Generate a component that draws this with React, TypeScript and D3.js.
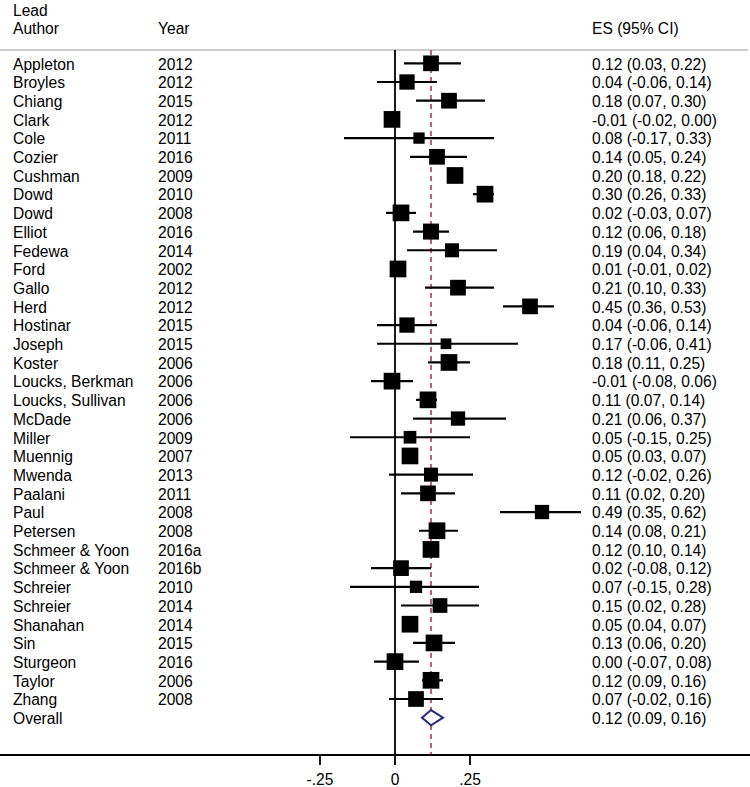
import React from "react";
import * as d3 from "d3";

const authors = ["Appleton","Broyles","Chiang","Clark","Cole","Cozier","Cushman","Dowd","Dowd","Elliot","Fedewa","Ford","Gallo","Herd","Hostinar","Joseph","Koster","Loucks, Berkman","Loucks, Sullivan","McDade","Miller","Muennig","Mwenda","Paalani","Paul","Petersen","Schmeer & Yoon","Schmeer & Yoon","Schreier","Schreier","Shanahan","Sin","Sturgeon","Taylor","Zhang"];
const years = ["2012","2012","2015","2012","2011","2016","2009","2010","2008","2016","2014","2002","2012","2012","2015","2015","2006","2006","2006","2006","2009","2007","2013","2011","2008","2008","2016a","2016b","2010","2014","2014","2015","2016","2006","2008"];
const es = [0.12,0.04,0.18,-0.01,0.08,0.14,0.20,0.30,0.02,0.12,0.19,0.01,0.21,0.45,0.04,0.17,0.18,-0.01,0.11,0.21,0.05,0.05,0.12,0.11,0.49,0.14,0.12,0.02,0.07,0.15,0.05,0.13,0.00,0.12,0.07];
const lo = [0.03,-0.06,0.07,-0.02,-0.17,0.05,0.18,0.26,-0.03,0.06,0.04,-0.01,0.10,0.36,-0.06,-0.06,0.11,-0.08,0.07,0.06,-0.15,0.03,-0.02,0.02,0.35,0.08,0.10,-0.08,-0.15,0.02,0.04,0.06,-0.07,0.09,-0.02];
const hi = [0.22,0.14,0.30,0.00,0.33,0.24,0.22,0.33,0.07,0.18,0.34,0.02,0.33,0.53,0.14,0.41,0.25,0.06,0.14,0.37,0.25,0.07,0.26,0.20,0.62,0.21,0.14,0.12,0.28,0.28,0.07,0.20,0.08,0.16,0.16];
const weights = [2.92,2.77,2.92,3.30,1.51,2.92,3.30,3.30,3.30,3.03,2.32,3.30,2.92,2.92,2.77,1.36,3.30,3.30,3.30,2.42,1.91,3.30,2.32,2.92,2.42,3.30,3.30,2.92,1.79,2.56,3.30,3.30,3.30,3.30,2.92];
const overall = { label: "Overall", es: 0.12, lo: 0.09, hi: 0.16 };
const tickValues = [-0.25, 0, 0.25];
const tickLabels = ["-.25", "0", ".25"];

const W = 750;
const H = 787;
const FONT = "'Liberation Sans', Arial, Helvetica, sans-serif";
const FS = 15.6;

const fmt = (v: number) => v.toFixed(2);

export default function App() {
  const x = d3.scaleLinear().domain([-0.25, 0.25]).range([320, 470]);
  const y = d3.scaleLinear().domain([0, authors.length]).range([63.3, 717.7]);
  const size = d3.scaleSqrt().domain([0, 3.3]).range([0, 16.7]);
  const axisY = 755;
  const topY = 50;
  const colAuthor = 13;
  const colYear = 158;
  const colES = 592;
  const oy = y(authors.length);
  const dh = 7.6;

  return (
    <svg width={W} height={H} style={{ position: "absolute", left: 0, top: 0, background: "#fff" }} fontFamily={FONT} fontSize={FS}>
      <rect x={0} y={0} width={W} height={H} fill="#fff" />
      {/* headers */}
      <text x={colAuthor} y={15.5}>Lead</text>
      <text x={colAuthor} y={34}>Author</text>
      <text x={colYear} y={34}>Year</text>
      <text x={colES} y={34}>ES (95% CI)</text>
      <line x1={0} x2={748} y1={topY} y2={topY} stroke="#bdbdbd" strokeWidth={1.5} />

      {/* zero line */}
      <line x1={x(0)} x2={x(0)} y1={topY} y2={axisY} stroke="#000" strokeWidth={1.8} />
      {/* overall dashed line */}
      <line x1={x(overall.es)} x2={x(overall.es)} y1={topY} y2={axisY} stroke="#b23a48" strokeWidth={1.6} strokeDasharray="5,4" />

      {authors.map((a, i) => {
        const cy = y(i);
        const s = size(weights[i]);
        return (
          <g key={i}>
            <line x1={x(lo[i])} x2={x(hi[i])} y1={cy} y2={cy} stroke="#000" strokeWidth={2.2} />
            <rect x={x(es[i]) - s / 2} y={cy - s / 2} width={s} height={s} fill="#000" />
            <text x={colAuthor} y={cy + 6.3}>{a}</text>
            <text x={colYear} y={cy + 6.3}>{years[i]}</text>
            <text x={colES} y={cy + 6.3}>{`${fmt(es[i])} (${fmt(lo[i])}, ${fmt(hi[i])})`}</text>
          </g>
        );
      })}

      {/* overall */}
      <path
        d={`M${x(overall.lo)},${oy} L${x(overall.es)},${oy - dh} L${x(overall.hi)},${oy} L${x(overall.es)},${oy + dh} Z`}
        fill="#fff"
        stroke="#2b2a7e"
        strokeWidth={2}
      />
      <text x={colAuthor} y={oy + 6.3}>{overall.label}</text>
      <text x={colES} y={oy + 6.3}>{`${fmt(overall.es)} (${fmt(overall.lo)}, ${fmt(overall.hi)})`}</text>

      {/* axis */}
      <line x1={0} x2={W} y1={axisY} y2={axisY} stroke="#000" strokeWidth={2} />
      {tickValues.map((t, i) => (
        <g key={t}>
          <line x1={x(t)} x2={x(t)} y1={axisY} y2={axisY + 10} stroke="#000" strokeWidth={1.8} />
          <text x={x(t)} y={785} textAnchor="middle">{tickLabels[i]}</text>
        </g>
      ))}
    </svg>
  );
}
